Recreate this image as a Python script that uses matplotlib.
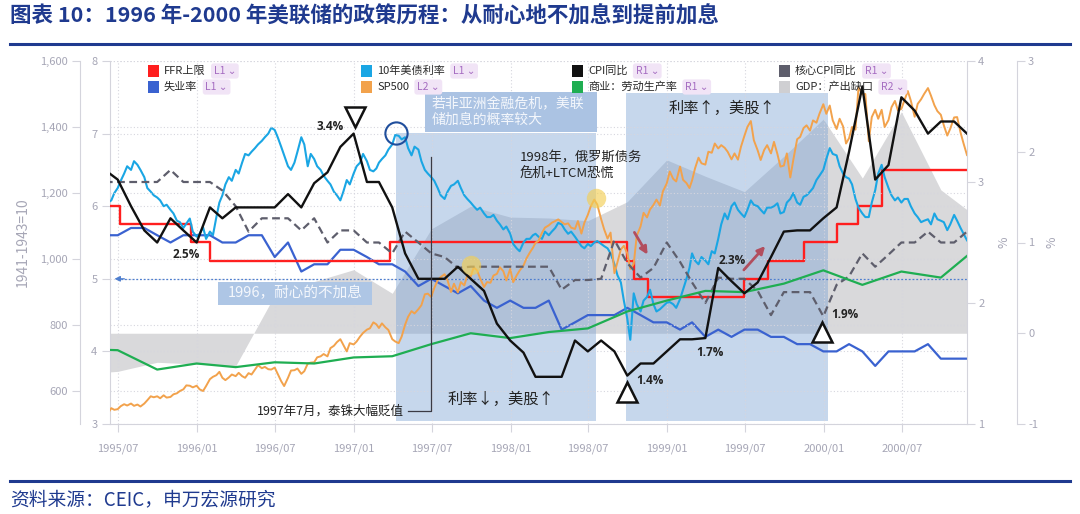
import numpy as np
import pandas as pd
import matplotlib
matplotlib.use('Agg')
import matplotlib.pyplot as plt
import matplotlib.dates as mdates
from matplotlib.patches import Rectangle
from matplotlib.lines import Line2D
from matplotlib.ticker import FuncFormatter

plt.rcParams['font.family'] = ['Noto Sans CJK SC', 'DejaVu Sans']
plt.rcParams['axes.unicode_minus'] = False

# ---------------- data ----------------
# monthly series, month-end, 1995/05 .. 2000/11
cpi_yoy = [3.10, 3.02, 2.80, 2.60, 2.50, 2.70, 2.60, 2.50,
           2.79, 2.70, 2.79, 2.79, 2.79, 2.79, 2.90, 2.79, 2.99, 3.08, 3.29, 3.40,
           3.00, 3.00, 2.79, 2.41, 2.20, 2.20, 2.20, 2.30, 2.20, 2.10, 1.83, 1.69,
           1.59, 1.39, 1.39, 1.39, 1.69, 1.60, 1.69, 1.60, 1.40, 1.50, 1.50, 1.60,
           1.70, 1.70, 1.71, 2.29, 2.18, 2.08, 2.17, 2.38, 2.59, 2.60, 2.60, 2.70,
           2.79, 3.25, 3.79, 3.02, 3.14, 3.70, 3.59, 3.40, 3.50, 3.50, 3.40]
core_cpi_yoy = [3.0, 3.0, 3.0, 3.0, 3.0, 3.1, 3.0, 3.0,
                3.0, 2.93, 2.80, 2.59, 2.70, 2.70, 2.70, 2.60, 2.70, 2.50, 2.60, 2.60,
                2.50, 2.50, 2.41, 2.59, 2.50, 2.41, 2.38, 2.29, 2.30, 2.30, 2.30, 2.30,
                2.30, 2.30, 2.30, 2.11, 2.19, 2.19, 2.20, 2.52, 2.33, 2.21, 2.29, 2.50,
                2.34, 2.17, 2.00, 2.21, 2.20, 2.20, 2.10, 1.90, 2.09, 2.09, 2.09, 1.89,
                2.15, 2.22, 2.41, 2.30, 2.40, 2.50, 2.50, 2.59, 2.50, 2.50, 2.59]
unemployment = [5.6, 5.6, 5.7, 5.7, 5.6, 5.5, 5.6, 5.6,
                5.6, 5.5, 5.5, 5.6, 5.6, 5.3, 5.5, 5.1, 5.2, 5.2, 5.4, 5.4,
                5.3, 5.2, 5.2, 5.1, 4.9, 5.0, 4.9, 4.8, 4.9, 4.7, 4.6, 4.7,
                4.6, 4.6, 4.7, 4.3, 4.4, 4.5, 4.5, 4.5, 4.6, 4.5, 4.4, 4.4,
                4.3, 4.4, 4.2, 4.3, 4.2, 4.3, 4.3, 4.2, 4.2, 4.1, 4.1, 4.0,
                4.0, 4.1, 4.0, 3.8, 4.0, 4.0, 4.0, 4.1, 3.9, 3.9, 3.9]

# weekly-ish series (7th / 15th / 22nd / month-end), 1995/05/31 .. 2000/11/30
sp500 = [533,
         532, 548, 543, 545, 554, 560, 556, 562, 555, 559, 553, 562,
         572, 584, 581, 584, 578, 587, 580, 582, 590, 593, 600, 605,
         617, 616, 611, 616,
         605, 600, 615, 636, 643, 648, 658, 640, 633, 641, 650, 645,
         655, 645, 640, 654, 650, 665, 678, 669, 673, 666, 665, 671,
         652, 630, 615, 640, 662, 663, 668, 652, 660, 683, 686, 687,
         702, 705, 712, 705, 730, 737, 748, 757, 740, 720, 745, 741,
         750, 765, 776, 786, 790, 808, 802, 791, 805, 793, 785, 757,
         750, 745, 765, 801, 825, 842, 835, 848, 860, 893, 895, 885,
         912, 936, 945, 954, 935, 900, 925, 899, 930, 920, 950, 947,
         975, 965, 941, 915, 930, 928, 950, 955, 975, 963, 935, 970,
         930, 950, 965, 980, 1002, 1020, 1034, 1049, 1055, 1079, 1095, 1102,
         1110, 1115, 1120, 1112, 1105, 1108, 1095, 1091, 1115, 1077, 1110, 1134,
         1160, 1180, 1165, 1121, 1090, 1062, 1080, 957, 990, 1029, 1040, 1017,
         970, 985, 1070, 1099, 1140, 1126, 1150, 1164, 1180, 1162, 1205, 1229,
         1265, 1243, 1235, 1280, 1240, 1230, 1215, 1238, 1275, 1307, 1290, 1286,
         1325, 1322, 1350, 1335, 1345, 1337, 1325, 1302, 1320, 1301, 1340, 1373,
         1400, 1418, 1360, 1329, 1300, 1330, 1345, 1320, 1355, 1318, 1280, 1283,
         1320, 1247, 1300, 1363, 1370, 1397, 1405, 1389, 1420, 1413, 1440, 1469,
         1440, 1465, 1420, 1394, 1425, 1402, 1350, 1366, 1400, 1392, 1520, 1499,
         1500, 1357, 1430, 1452, 1425, 1452, 1400, 1421, 1460, 1479, 1450, 1455,
         1480, 1509, 1480, 1431, 1470, 1484, 1500, 1518, 1495, 1466, 1448, 1437,
         1405, 1374, 1395, 1429, 1430, 1383, 1350, 1315]
ust10y = [6.15,
          6.05, 6.08, 6.18, 6.25, 6.35, 6.45, 6.55, 6.50, 6.62, 6.57, 6.50, 6.40,
          6.25, 6.20, 6.15, 6.12, 6.08, 6.00, 6.02, 5.95, 5.90, 5.80, 5.78, 5.70,
          5.76, 5.83, 5.65, 5.58,
          5.62, 5.71, 5.55, 5.65, 5.60, 5.85, 6.05, 6.15, 6.30, 6.40, 6.35, 6.50,
          6.45, 6.60, 6.72, 6.70, 6.75, 6.80, 6.85, 6.90, 6.95, 7.00, 7.08, 7.05,
          6.95, 6.82, 6.70, 6.55, 6.50, 6.60, 6.75, 6.95, 6.85, 6.55, 6.72, 6.65,
          6.55, 6.50, 6.42, 6.35, 6.30, 6.20, 6.15, 6.08, 6.20, 6.36, 6.30, 6.45,
          6.55, 6.60, 6.72, 6.62, 6.50, 6.48, 6.52, 6.60, 6.65, 6.70, 6.78, 6.85,
          6.98, 6.97, 6.92, 6.95, 6.80, 6.70, 6.82, 6.78, 6.62, 6.50, 6.45, 6.40,
          6.35, 6.25, 6.15, 6.10, 6.20, 6.28, 6.30, 6.35, 6.25, 6.15, 6.10, 6.05,
          6.00, 5.95, 5.98, 5.90, 5.85, 5.85, 5.88, 5.80, 5.75, 5.68, 5.72, 5.62,
          5.48, 5.42, 5.38, 5.50, 5.55, 5.55, 5.60, 5.62, 5.58, 5.55, 5.65, 5.60,
          5.65, 5.70, 5.77, 5.75, 5.68, 5.62, 5.65, 5.58, 5.52, 5.45, 5.42, 5.48,
          5.45, 5.50, 5.52, 5.48, 5.45, 5.42, 5.35, 5.20, 5.05, 4.95, 4.70, 4.45,
          4.16, 4.80, 4.65, 4.55, 4.70, 4.75, 4.85, 4.65, 4.55, 4.58, 4.62, 4.67,
          4.68, 4.65, 4.60, 4.72, 4.85, 5.00, 5.15, 5.35, 5.25, 5.20, 5.30, 5.25,
          5.20, 5.38, 5.35, 5.55, 5.75, 5.90, 5.82, 6.00, 6.05, 5.95, 5.90, 5.85,
          5.95, 6.08, 6.02, 6.00, 5.95, 5.90, 5.98, 5.98, 6.00, 6.04, 5.90, 5.92,
          6.05, 6.10, 6.18, 6.05, 6.02, 6.13, 6.15, 6.20, 6.25, 6.36, 6.42, 6.50,
          6.65, 6.80, 6.72, 6.70, 6.55, 6.45, 6.40, 6.38, 6.30, 6.10, 5.98, 5.90,
          5.85, 5.85, 6.05, 6.22, 6.45, 6.57, 6.40, 6.25, 6.15, 6.08, 6.12, 6.05,
          6.10, 6.10, 6.00, 5.90, 5.85, 5.78, 5.80, 5.82, 5.75, 5.90, 5.82, 5.80,
          5.78, 5.67, 5.75, 5.88, 5.80, 5.70, 5.62, 5.53]

# quarterly series, quarter-end, 1995Q1 .. 2000Q4
productivity = [1.62, 1.61, 1.45, 1.50, 1.47, 1.51, 1.50, 1.55, 1.56, 1.66, 1.75, 1.71,
                1.76, 1.79, 1.93, 2.02, 2.10, 2.09, 2.16, 2.27, 2.15, 2.26, 2.21, 2.48]
gdp_gap = [-0.45, -0.42, -0.32, -0.34, -0.36, 0.42, 0.57, 0.70, 0.44, 1.15, 1.40, 1.28,
           1.27, 1.24, 1.45, 1.91, 1.73, 1.56, 1.95, 2.36, 1.71, 2.44, 1.58, 1.25]

# fed funds target changes
ffr_dates = ['1995-05-31', '1995-07-06', '1995-12-19', '1996-01-31', '1997-03-25',
             '1998-09-29', '1998-10-15', '1998-11-17', '1999-06-30', '1999-08-24',
             '1999-11-16', '2000-02-02', '2000-03-21', '2000-05-16', '2000-11-30']
ffr_upper = [6.0, 5.75, 5.5, 5.25, 5.5, 5.25, 5.0, 4.75, 5.0, 5.25, 5.5, 5.75, 6.0, 6.5, 6.5]

# shaded periods
shade_periods = [('1997-04-08', '1998-07-19'), ('1998-09-28', '2000-01-12')]

month_ends = pd.date_range('1995-05-01', '2000-11-01', freq='MS') + pd.offsets.MonthEnd(0)
quarter_ends = pd.date_range('1995-03-01', '2000-12-01', freq='3MS') + pd.offsets.MonthEnd(0)
week_dates = [pd.Timestamp('1995-05-31')]
for d in pd.date_range('1995-06-01', '2000-11-01', freq='MS'):
    week_dates += [d + pd.Timedelta(days=6), d + pd.Timedelta(days=14),
                   d + pd.Timedelta(days=21), d + pd.offsets.MonthEnd(0)]

# ---------------- colours ----------------
C_RED = '#ff1e1e'
C_10Y = '#1aa6e4'
C_CPI = '#111111'
C_CORE = '#5e5e6c'
C_UNEMP = '#3a62d0'
C_SPX = '#f2a24c'
C_PROD = '#1fae52'
C_GDP = '#d9d9db'
C_AXIS = '#d4d4dc'
C_TICK = '#a6a6b6'
C_NAVY = '#1f3a8f'

W, H = 1080, 514
fig = plt.figure(figsize=(W / 100, H / 100), dpi=100)
fig.patch.set_facecolor('white')


def fx(x):
    return x / W


def fy(y):
    return 1 - y / H


def afx(x):
    return (x - 110) / 857


def afy(y):
    return (424 - y) / 363


ax = fig.add_axes([fx(110), fy(424), 857 / W, 363 / H])
ax_r2 = ax.twinx()
ax_l2 = ax.twinx()
ax_r1 = ax.twinx()
for z, a in enumerate([ax_r2, ax, ax_l2, ax_r1]):
    a.set_zorder(z + 1)
    a.patch.set_visible(False)
    for s in a.spines.values():
        s.set_visible(False)
        s.set_color(C_AXIS)

ax.set_xlim(pd.Timestamp('1995-06-12'), pd.Timestamp('2000-11-30'))

# GDP gap fill + shaded periods (lowest layer)
ax_r2.fill_between(quarter_ends, gdp_gap, 0, interpolate=True, color=C_GDP, lw=0, zorder=1)
ax_r2.axvspan(pd.Timestamp(shade_periods[0][0]), pd.Timestamp(shade_periods[0][1]),
              ymin=0.008, ymax=afy(133), color=(0.47, 0.63, 0.83), alpha=0.42, lw=0, zorder=2)
ax_r2.axvspan(pd.Timestamp(shade_periods[1][0]), pd.Timestamp(shade_periods[1][1]),
              ymin=0.008, ymax=afy(93), color=(0.47, 0.63, 0.83), alpha=0.42, lw=0, zorder=2)

# L1 series
ax.plot(pd.to_datetime(ffr_dates), ffr_upper, drawstyle='steps-post', color=C_RED, lw=1.7, zorder=4)
ax.plot(month_ends, unemployment, color=C_UNEMP, lw=1.6, zorder=3)
ax.plot(week_dates, ust10y, color=C_10Y, lw=1.5, zorder=5)
ax.axhline(5.0, xmin=0.008, color='#4f7fcf', lw=0.9, ls=(0, (1.5, 1.5)), zorder=2)
ax.annotate('', xy=(0.002, 5.0), xycoords=('axes fraction', 'data'),
            xytext=(0.02, 5.0), textcoords=('axes fraction', 'data'),
            arrowprops=dict(arrowstyle='-|>', color='#4f7fcf', lw=0.9, mutation_scale=8))

# L2
ax_l2.plot(week_dates, sp500, color=C_SPX, lw=1.4)

# R1
ax_r1.plot(month_ends, core_cpi_yoy, color=C_CORE, lw=1.6, ls=(0, (3.5, 2)))
ax_r1.plot(quarter_ends, productivity, color=C_PROD, lw=1.6)
ax_r1.plot(month_ends, cpi_yoy, color=C_CPI, lw=1.7)

# ---------------- axes styling ----------------
tick_kw = dict(direction='out', length=6, width=0.8, color=C_AXIS,
               labelcolor=C_TICK, labelsize=8)

ax.set_ylim(3, 8)
ax.set_yticks(range(3, 9))
ax.spines['left'].set_visible(True)
ax.spines['bottom'].set_visible(True)
ax.tick_params(axis='y', pad=3, **tick_kw)
ax.tick_params(axis='x', pad=8, **tick_kw)
ax.xaxis.set_major_locator(mdates.MonthLocator(bymonth=[1, 7]))
ax.xaxis.set_major_formatter(mdates.DateFormatter('%Y/%m'))
ax.grid(True, ls=(0, (1, 2)), color='#d6d6de', lw=0.8)

ax_l2.set_ylim(500, 1600)
ax_l2.set_yticks(range(600, 1601, 200))
ax_l2.yaxis.set_major_formatter(FuncFormatter(lambda v, p: f'{v:,.0f}'))
ax_l2.yaxis.tick_left()
ax_l2.yaxis.set_label_position('left')
ax_l2.spines['left'].set_visible(True)
ax_l2.spines['left'].set_position(('axes', -30 / 857))
ax_l2.tick_params(axis='y', pad=3, **tick_kw)
ax_l2.grid(True, axis='y', ls=(0, (1, 2)), color='#d6d6de', lw=0.8)
ax_l2.set_ylabel('1941-1943=10', color=C_TICK, fontsize=10)
ax_l2.yaxis.set_label_coords(afx(30), 0.5)

ax_r1.set_ylim(1, 4)
ax_r1.set_yticks(range(1, 5))
ax_r1.spines['right'].set_visible(True)
ax_r1.tick_params(axis='y', pad=2, **tick_kw)
ax_r1.set_ylabel('%', color=C_TICK, fontsize=9)
ax_r1.yaxis.set_label_coords(afx(997), 0.5)

ax_r2.set_ylim(-1, 3)
ax_r2.set_yticks(range(-1, 4))
ax_r2.spines['right'].set_visible(True)
ax_r2.spines['right'].set_position(('axes', 1 + 50 / 857))
ax_r2.tick_params(axis='y', pad=2, **tick_kw)
ax_r2.set_ylabel('%', color=C_TICK, fontsize=9)
ax_r2.yaxis.set_label_coords(afx(1045), 0.5)

# ---------------- annotations (on top axes, axes fraction) ----------------
T = ax_r1.transAxes
box_kw = dict(transform=T, lw=0, zorder=6)
ax_r1.add_patch(Rectangle((afx(218), afy(305)), afx(372) - afx(218), afy(282) - afy(305),
                          fc='#aec6e5', **box_kw))
ax_r1.text(afx(295), afy(293), '1996，耐心的不加息', transform=T, ha='center', va='center',
           color='#f4f7fc', fontsize=10.5, zorder=7)
ax_r1.add_patch(Rectangle((afx(425), afy(132)), afx(597) - afx(425), afy(92) - afy(132),
                          fc='#abc3e3', **box_kw))
ax_r1.text(afx(432), afy(112), '若非亚洲金融危机，美联\n储加息的概率较大', transform=T,
           ha='left', va='center', color='#f4f7fc', fontsize=10, linespacing=1.2, zorder=7)

ax_r1.text(afx(520), afy(166), '1998年，俄罗斯债务\n危机+LTCM恐慌', transform=T,
           ha='left', va='center', color='#222222', fontsize=9.5, linespacing=1.3, zorder=7)
ax_r1.text(afx(722), afy(108), '利率↑，美股↑', transform=T, ha='center', va='center',
           color='#222222', fontsize=11, zorder=7)
ax_r1.text(afx(501), afy(399), '利率↓，美股↑', transform=T, ha='center', va='center',
           color='#222222', fontsize=11, zorder=7)
ax_r1.text(afx(404), afy(411), '1997年7月，泰铢大幅贬值', transform=T, ha='right', va='center',
           color='#222222', fontsize=9, zorder=7)
ax_r1.plot([afx(431), afx(431), afx(408)], [afy(157), afy(411), afy(411)], transform=T,
           color='#3a3a44', lw=0.9, zorder=7)

# markers: circles, triangles
ax_r1.plot([afx(396)], [afy(133)], transform=T, marker='o', ms=16, mfc='none',
           mec='#1f4e9c', mew=1.5, zorder=8)
for cx, cy in [(471, 265), (596, 198)]:
    ax_r1.plot([afx(cx)], [afy(cy)], transform=T, marker='o', ms=14, color='#f3cf55',
               alpha=0.65, mec='none', zorder=8)
ax_r1.plot([afx(354.5)], [afy(117)], transform=T, marker='v', ms=15, mfc='white',
           mec='#111111', mew=1.8, zorder=8)
ax_r1.plot([afx(627)], [afy(392)], transform=T, marker='^', ms=15, mfc='white',
           mec='#111111', mew=1.8, zorder=8)
ax_r1.plot([afx(822)], [afy(332)], transform=T, marker='^', ms=15, mfc='white',
           mec='#111111', mew=1.8, zorder=8)

pct_kw = dict(transform=T, fontsize=8.5, fontweight='bold', color='#222222',
              family='Open Sans', va='center', zorder=8)
ax_r1.text(afx(344), afy(127), '3.4%', ha='right', **pct_kw)
ax_r1.text(afx(186), afy(254), '2.5%', ha='center', **pct_kw)
ax_r1.text(afx(636), afy(381), '1.4%', ha='left', **pct_kw)
ax_r1.text(afx(710), afy(352), '1.7%', ha='center', **pct_kw)
ax_r1.text(afx(732), afy(260), '2.3%', ha='center', **pct_kw)
ax_r1.text(afx(831), afy(315), '1.9%', ha='left', **pct_kw)

arrow_kw = dict(arrowstyle='-|>', color='#b24e5e', lw=2, mutation_scale=11)
ax_r1.annotate('', xy=(afx(649), afy(257)), xytext=(afx(633), afy(230)),
               xycoords=T, textcoords=T, arrowprops=arrow_kw, zorder=8)
ax_r1.annotate('', xy=(afx(767), afy(244)), xytext=(afx(742), afy(272)),
               xycoords=T, textcoords=T, arrowprops=arrow_kw, zorder=8)

# ---------------- legend ----------------
legend_items = [
    ('FFR上限', 'L1', C_RED, 148, 71), ('10年美债利率', 'L1', C_10Y, 361, 71),
    ('CPI同比', 'R1', C_CPI, 572, 71), ('核心CPI同比', 'R1', C_CORE, 779, 71),
    ('失业率', 'L1', C_UNEMP, 148, 87), ('SP500', 'L2', C_SPX, 361, 87),
    ('商业：劳动生产率', 'R1', C_PROD, 572, 87), ('GDP：产出缺口', 'R2', '#cfcfd2', 779, 87),
]
label_texts = []
for name, axis_name, color, x0, y0 in legend_items:
    fig.add_artist(Rectangle((fx(x0), fy(y0 + 6)), 11 / W, 12 / H, transform=fig.transFigure,
                             fc=color, ec='none', zorder=20))
    t = fig.text(fx(x0 + 16), fy(y0), name, fontsize=8, color='#2a2a2a', va='center', zorder=20)
    label_texts.append((t, axis_name, y0))

fig.canvas.draw()
renderer = fig.canvas.get_renderer()
for t, axis_name, y0 in label_texts:
    bb = t.get_window_extent(renderer)
    fig.text((bb.x1 + 8) / W, fy(y0), axis_name + ' ⌄', fontsize=7.5, color='#a56cc1',
             va='center', zorder=20,
             bbox=dict(boxstyle='round,pad=0.25', fc='#f1e4f6', ec='none'))

# ---------------- title / rules / footer ----------------
fig.text(fx(10), fy(16), '图表 10：1996 年-2000 年美联储的政策历程：从耐心地不加息到提前加息',
         fontsize=15.5, fontweight='bold', color=C_NAVY, va='center')
fig.add_artist(Line2D([fx(10), fx(1070)], [fy(44), fy(44)], color=C_NAVY, lw=2.2))
fig.add_artist(Line2D([fx(10), fx(1070)], [fy(481), fy(481)], color=C_NAVY, lw=2.2))
fig.text(fx(10), fy(500), '资料来源：CEIC，申万宏源研究', fontsize=13.5, color=C_NAVY, va='center')

fig.savefig('out.png', dpi=100, facecolor='white')
